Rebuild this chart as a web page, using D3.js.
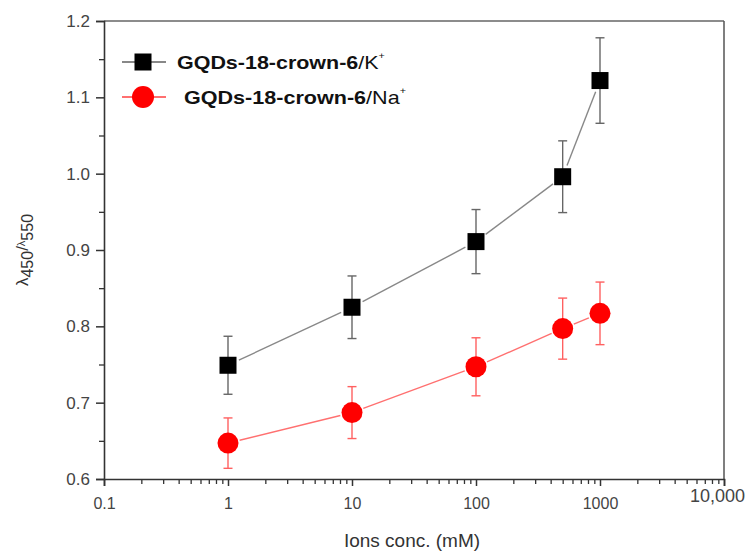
<!DOCTYPE html>
<html>
<head>
<meta charset="utf-8">
<script src="https://cdn.jsdelivr.net/npm/d3@7"></script>
<style>
  html, body { margin: 0; padding: 0; background: #fff; }
  svg { display: block; }
  text { font-family: "Liberation Sans", Arial, sans-serif; }
</style>
</head>
<body>
<svg id="chart" width="753" height="554"></svg>
<script>
// ---- data ----
const concentrations = [1, 10, 100, 500, 1000];
const kValues  = [0.749, 0.825, 0.911, 0.996, 1.122];
const kErrors  = [0.038, 0.041, 0.042, 0.047, 0.056];
const naValues = [0.647, 0.687, 0.747, 0.797, 0.817];
const naErrors = [0.033, 0.034, 0.038, 0.040, 0.041];
const xTickValues = [0.1, 1, 10, 100, 1000, 10000];
const xTickLabels = ["0.1", "1", "10", "100", "1000", "10,000"];
const yTickValues = [0.6, 0.7, 0.8, 0.9, 1.0, 1.1, 1.2];
const yTickLabels = ["0.6", "0.7", "0.8", "0.9", "1.0", "1.1", "1.2"];
const seriesNames = ["GQDs-18-crown-6", "GQDs-18-crown-6"];
const seriesIons = ["K", "Na"];

// ---- layout ----
const svg = d3.select("#chart");
const L = 104, R = 724, T = 21, B = 479;
const x = d3.scaleLog().domain([0.1, 10000]).range([L, R]);
const y = d3.scaleLinear().domain([0.6, 1.2]).range([B, T]);
const axisColor = "#333";

// frame (top & right)
svg.append("line").attr("x1", L).attr("x2", R).attr("y1", T).attr("y2", T)
  .attr("stroke", "#666").attr("stroke-width", 1.5);
svg.append("line").attr("x1", R).attr("x2", R).attr("y1", T).attr("y2", B)
  .attr("stroke", "#555").attr("stroke-width", 1.5);

// x minor ticks
const xMinor = [];
for (let d = 0.1; d < 10000; d *= 10) for (let k = 2; k <= 9; k++) xMinor.push(d * k);
const xAxisMinor = d3.axisBottom(x).tickValues(xMinor).tickSize(5).tickFormat("");
const gxm = svg.append("g").attr("transform", `translate(0,${B})`).call(xAxisMinor);
gxm.select(".domain").remove();
gxm.selectAll("line").attr("stroke", axisColor).attr("stroke-width", 1.3);

const xAxis = d3.axisBottom(x).tickValues(xTickValues).tickSize(7).tickPadding(12)
  .tickFormat((d, i) => xTickLabels[i]);
const gx = svg.append("g").attr("transform", `translate(0,${B})`).call(xAxis);
gx.select(".domain").attr("stroke", axisColor).attr("stroke-width", 1.6);
gx.selectAll("line").attr("stroke", axisColor).attr("stroke-width", 1.5);
gx.selectAll("text").attr("font-size", 16).attr("fill", "#444")
  .attr("font-family", "Liberation Sans, Arial, sans-serif");
gx.selectAll("text").filter((d) => d === 10000).attr("font-size", 18)
  .attr("dy", "0.2em").attr("dx", -7);

// y minor ticks
const yMinor = [0.65, 0.75, 0.85, 0.95, 1.05, 1.15];
const gym = svg.append("g").attr("transform", `translate(${L},0)`)
  .call(d3.axisLeft(y).tickValues(yMinor).tickSize(5).tickFormat(""));
gym.select(".domain").remove();
gym.selectAll("line").attr("stroke", axisColor).attr("stroke-width", 1.3);

const yAxis = d3.axisLeft(y).tickValues(yTickValues).tickSize(8).tickPadding(6)
  .tickFormat((d, i) => yTickLabels[i]);
const gy = svg.append("g").attr("transform", `translate(${L},0)`).call(yAxis);
gy.select(".domain").attr("stroke", axisColor).attr("stroke-width", 1.6);
gy.selectAll("line").attr("stroke", axisColor).attr("stroke-width", 1.5);
gy.selectAll("text").attr("font-size", 17).attr("fill", "#444")
  .attr("font-family", "Liberation Sans, Arial, sans-serif");

// axis titles
svg.append("text").attr("x", 412).attr("y", 547).attr("text-anchor", "middle")
  .attr("font-size", 19).attr("fill", "#333").text("Ions conc. (mM)");

const yt = svg.append("text").attr("transform", "translate(28,250) rotate(-90)")
  .attr("text-anchor", "middle").attr("font-size", 17).attr("fill", "#333");
yt.append("tspan").text("λ");
yt.append("tspan").attr("font-size", 16).attr("dy", 5).text("450");
yt.append("tspan").attr("dy", -5).text("/");
yt.append("tspan").attr("font-size", 11).attr("dy", -3).text("λ");
yt.append("tspan").attr("font-size", 16).attr("dy", 8).text("550");

// ---- series ----
function shortSegments(pts, gap) {
  const segs = [];
  for (let i = 0; i < pts.length - 1; i++) {
    const [x1, y1] = pts[i], [x2, y2] = pts[i + 1];
    const dx = x2 - x1, dy = y2 - y1, len = Math.hypot(dx, dy);
    if (len <= 2 * gap) continue;
    const ux = dx / len, uy = dy / len;
    segs.push([x1 + ux * gap, y1 + uy * gap, x2 - ux * gap, y2 - uy * gap]);
  }
  return segs;
}

function drawSeries(vals, errs, lineColor, errColor, markerType, markerColor) {
  const g = svg.append("g");
  const pts = concentrations.map((c, i) => [x(c), y(vals[i])]);
  // connecting lines with Origin-style gaps
  g.selectAll("line.conn").data(shortSegments(pts, 12)).enter().append("line")
    .attr("x1", d => d[0]).attr("y1", d => d[1]).attr("x2", d => d[2]).attr("y2", d => d[3])
    .attr("stroke", lineColor).attr("stroke-width", 1.4);
  // error bars
  concentrations.forEach((c, i) => {
    const cx = x(c), top = y(vals[i] + errs[i]), bot = y(vals[i] - errs[i]);
    g.append("line").attr("x1", cx).attr("x2", cx).attr("y1", top).attr("y2", bot)
      .attr("stroke", errColor).attr("stroke-width", 1.4);
    [top, bot].forEach(yy => g.append("line").attr("x1", cx - 4.5).attr("x2", cx + 4.5)
      .attr("y1", yy).attr("y2", yy).attr("stroke", errColor).attr("stroke-width", 1.4));
  });
  // markers
  if (markerType === "square") {
    g.selectAll("rect").data(pts).enter().append("rect")
      .attr("x", d => d[0] - 8.5).attr("y", d => d[1] - 8.5)
      .attr("width", 17).attr("height", 17).attr("fill", markerColor);
  } else {
    g.selectAll("circle").data(pts).enter().append("circle")
      .attr("cx", d => d[0]).attr("cy", d => d[1]).attr("r", 10.5).attr("fill", markerColor);
  }
}

drawSeries(kValues, kErrors, "#888", "#666", "square", "#000");
drawSeries(naValues, naErrors, "#ff7070", "#ff6060", "circle", "#ff0000");

// ---- legend ----
const lg = svg.append("g");
lg.append("line").attr("x1", 122).attr("x2", 166).attr("y1", 62).attr("y2", 62)
  .attr("stroke", "#888").attr("stroke-width", 2);
lg.append("rect").attr("x", 134.5).attr("y", 53.5).attr("width", 17).attr("height", 17).attr("fill", "#000");
lg.append("line").attr("x1", 122).attr("x2", 166).attr("y1", 97).attr("y2", 97)
  .attr("stroke", "#ff7070").attr("stroke-width", 2);
lg.append("circle").attr("cx", 143).attr("cy", 97).attr("r", 11).attr("fill", "#ff0000");

function legendText(xp, yp, name, ion, width) {
  const t = lg.append("text").attr("x", xp).attr("y", yp).attr("font-size", 18).attr("fill", "#111");
  t.append("tspan").attr("font-weight", "bold").text(name);
  t.append("tspan").attr("font-weight", "normal").text("/" + ion);
  t.append("tspan").attr("font-size", 9).attr("dy", -10).text("+");
  const w = t.node().getComputedTextLength();
  t.attr("transform", `translate(${xp},0) scale(${width / w},1) translate(${-xp},0)`);
}
legendText(177, 69, seriesNames[0], seriesIons[0], 208);
legendText(184, 104, seriesNames[1], seriesIons[1], 222);
</script>
</body>
</html>
